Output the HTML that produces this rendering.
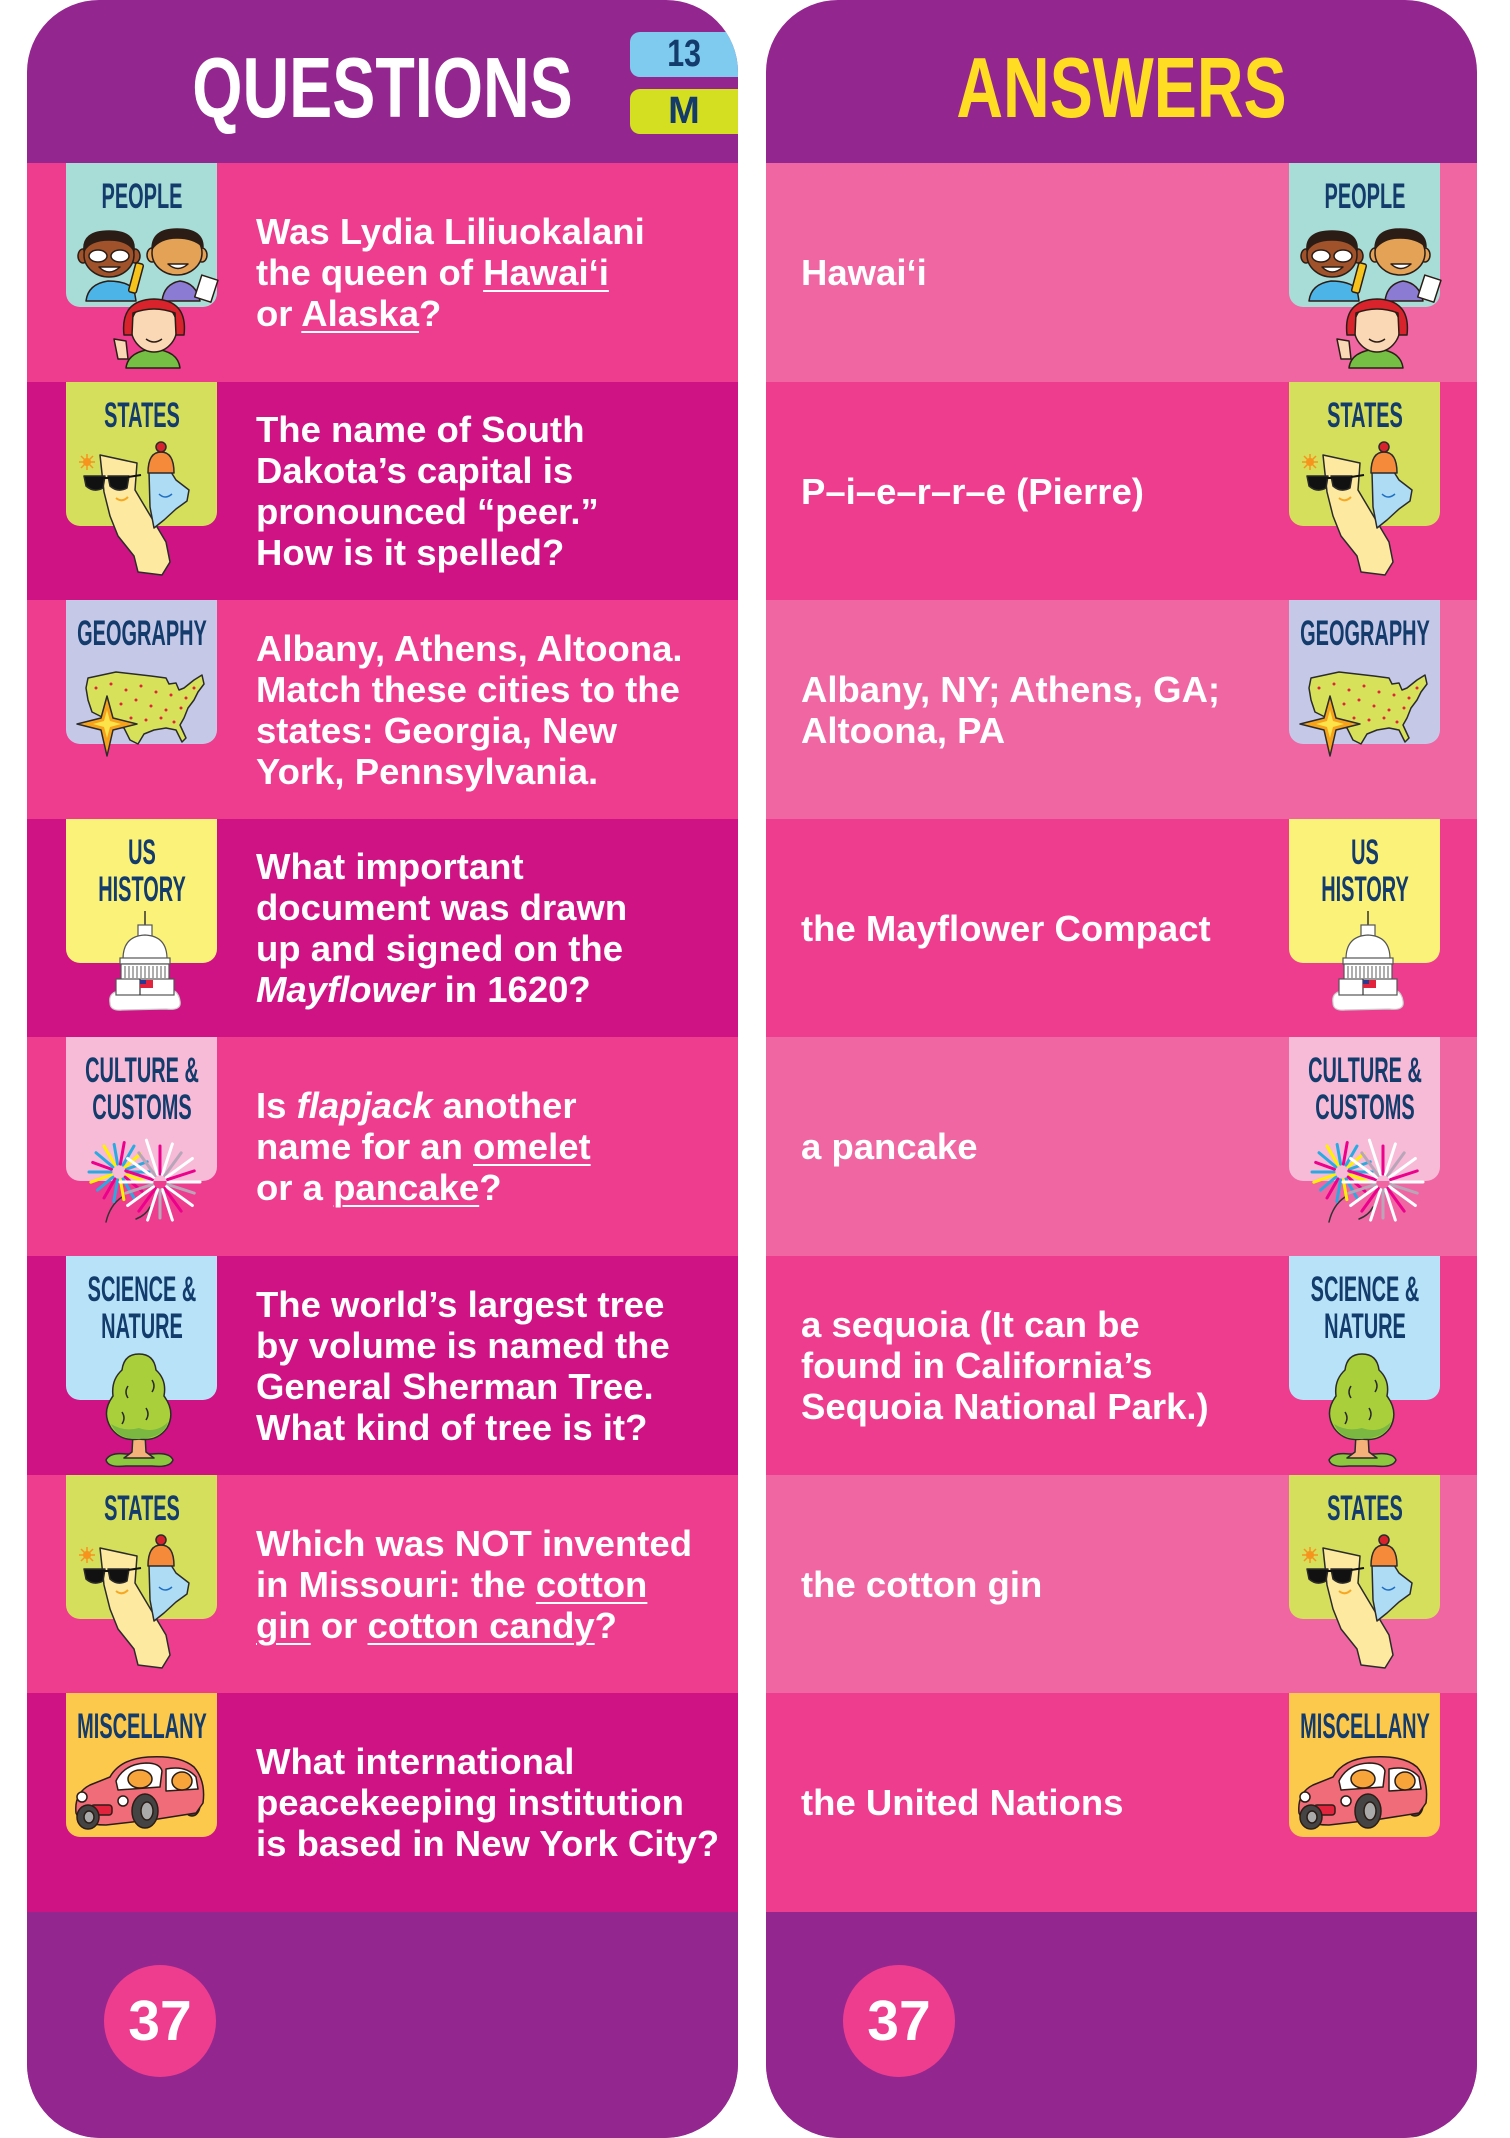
<!DOCTYPE html>
<html><head><meta charset="utf-8">
<style>
html,body{margin:0;padding:0;background:#fff;}
body{width:1510px;height:2138px;position:relative;overflow:hidden;font-family:"Liberation Sans",sans-serif;}
.card{position:absolute;top:0;width:711px;height:2138px;border-radius:72px 72px 74px 74px;overflow:hidden;background:#93278f;}
.title{position:absolute;top:46px;left:0;width:711px;text-align:center;font:bold 85px/85px "Liberation Sans",sans-serif;transform:scaleX(.76);white-space:nowrap;}
.tab{position:absolute;left:603px;width:108px;height:45px;border-radius:10px 0 0 10px;text-align:center;font:bold 38px/45px "Liberation Sans",sans-serif;color:#133b6c;}
.row{position:absolute;left:0;width:711px;}
.q,.a{position:absolute;top:0;bottom:0;display:flex;align-items:center;color:#fff;font:bold 36.5px/41px "Liberation Sans",sans-serif;white-space:nowrap;}
.q{left:229px;}
.a{left:35px;}
.bw{position:absolute;top:0;width:151px;height:218px;}
.badge{position:absolute;left:0;top:0;width:151px;height:144px;border-radius:0 0 14px 14px;}
.lbl{position:absolute;top:15px;left:50%;transform:translateX(-50%) scaleX(.57);font:bold 35px/37px "Liberation Sans",sans-serif;color:#133b6c;text-align:center;white-space:nowrap;}
.ill{position:absolute;left:0;top:0;width:151px;height:218px;overflow:visible;}
u{text-decoration:underline;text-decoration-thickness:2px;text-underline-offset:5px;}
.ftr{position:absolute;left:0;top:1912px;width:711px;height:226px;background:#93278f;}
.circ{position:absolute;left:77px;top:53px;width:112px;height:112px;border-radius:56px;background:#ee3d8f;color:#fff;text-align:center;font:bold 57px/112px "Liberation Sans",sans-serif;}
.pk{background:#ee3d8f;}
.mg{background:#cf1384;}
.lp{background:#ef66a3;}
</style></head><body>

<!-- ================= LEFT CARD ================= -->
<div class="card" style="left:27px;">
  <div class="title" style="color:#fff;">QUESTIONS</div>
  <div class="tab" style="top:32px;background:#7fcbef;"><span style="display:inline-block;transform:scaleX(.8);">13</span></div>
  <div class="tab" style="top:89px;background:#d5df22;">M</div>

  <!-- Row 1 PEOPLE -->
  <div class="row pk" style="top:163px;height:219px;">
    <div class="bw" style="left:39px;">
      <div class="badge" style="background:#a8dcd7;"><div class="lbl">PEOPLE</div></div>
      <svg class="ill" viewBox="0 0 151 218"><g stroke="#2b1d16" stroke-width="1.5" stroke-linejoin="round">
        <path d="M20 138 Q22 121 42 118 Q60 118 68 126 L70 138Z" fill="#4db4e8"/>
        <rect x="66" y="100" width="8" height="30" rx="2" fill="#f6c21c" transform="rotate(15 70 115)"/>
        <ellipse cx="17" cy="93" rx="5" ry="7" fill="#a0522a"/>
        <ellipse cx="69" cy="93" rx="5" ry="7" fill="#a0522a"/>
        <ellipse cx="43" cy="92" rx="25" ry="22" fill="#a0522a"/>
        <path d="M18 88 Q16 68 43 68 Q70 68 68 88 Q62 77 43 77 Q24 77 18 88Z" fill="#2b1d16"/>
        <ellipse cx="32" cy="93" rx="9" ry="6" fill="#fff"/>
        <ellipse cx="54" cy="93" rx="9" ry="6" fill="#fff"/>
        <path d="M33 104 Q43 114 54 104Z" fill="#fff"/>
        <path d="M96 138 Q98 121 114 118 Q130 120 134 138Z" fill="#8b7bd3"/>
        <ellipse cx="86" cy="92" rx="5" ry="7" fill="#e3a256"/>
        <ellipse cx="136" cy="92" rx="5" ry="7" fill="#e3a256"/>
        <ellipse cx="111" cy="90" rx="25" ry="22" fill="#e3a256"/>
        <path d="M86 86 Q86 66 111 66 Q137 66 137 84 Q128 75 111 75 Q94 75 86 86Z" fill="#2b1d16"/>
        <path d="M102 101 Q112 110 122 101Z" fill="#fff"/>
        <rect x="132" y="114" width="17" height="23" fill="#fff" transform="rotate(18 140 125)"/>
        <path d="M60 205 Q62 188 88 186 Q112 188 114 205Z" fill="#74bf44"/>
        <path d="M48 176 L52 196 L62 196 L60 178Z" fill="#fbd8b5"/>
        <ellipse cx="88" cy="164" rx="23" ry="25" fill="#fbd8b5"/>
        <path d="M58 172 Q54 137 88 136 Q122 137 118 172 L110 172 L109 150 Q88 142 67 150 L66 172Z" fill="#d8232d"/>
        <path d="M80 176 Q88 182 96 176" fill="none"/>
      </g></svg>
    </div>
    <div class="q"><div>Was Lydia Liliuokalani<br>the queen of <u>Hawai‘i</u><br>or <u>Alaska</u>?</div></div>
  </div>

  <!-- Row 2 STATES -->
  <div class="row mg" style="top:382px;height:218px;">
    <div class="bw" style="left:39px;">
      <div class="badge" style="background:#d5df5c;"><div class="lbl">STATES</div></div>
      <svg class="ill" viewBox="0 0 151 218"><g stroke="#2b2b2b" stroke-width="1.5" stroke-linejoin="round">
        <g stroke="#f7941d"><line x1="13" y1="80" x2="29" y2="80"/><line x1="21" y1="72" x2="21" y2="88"/><line x1="15" y1="74" x2="27" y2="86"/><line x1="27" y1="74" x2="15" y2="86"/></g>
        <circle cx="21" cy="80" r="4" fill="#f7941d" stroke="none"/>
        <path d="M34 73 L71 81 L69 108 L100 160 L104 180 L96 193 L72 190 L68 174 L52 154 L44 134 L38 110Z" fill="#fde99f"/>
        <path d="M18 94 L39 94 L37 106 Q28 111 20 104Z" fill="#111"/>
        <path d="M42 94 L63 94 L61 106 Q52 111 44 104Z" fill="#111"/>
        <line x1="38" y1="96" x2="43" y2="96" stroke="#111" stroke-width="2"/>
        <line x1="62" y1="95" x2="75" y2="93" stroke="#111" stroke-width="2"/>
        <path d="M50 116 Q56 121 62 115" fill="none" stroke="#f7a823" stroke-width="2"/>
        <path d="M83 90 L105 90 L110 98 L123 108 L121 119 L110 127 L98 138 L88 146 L84 125Z" fill="#aedcf4"/>
        <path d="M82 91 Q82 70 95 70 Q108 70 108 91Z" fill="#f58a3a"/>
        <circle cx="95" cy="65" r="5" fill="#d8232d"/>
        <path d="M93 112 Q99 118 106 112" fill="none" stroke="#1f6fc4"/>
      </g></svg>
    </div>
    <div class="q"><div>The name of South<br>Dakota’s capital is<br>pronounced “peer.”<br>How is it spelled?</div></div>
  </div>

  <!-- Row 3 GEOGRAPHY -->
  <div class="row pk" style="top:600px;height:219px;">
    <div class="bw" style="left:39px;">
      <div class="badge" style="background:#c5c9e7;"><div class="lbl">GEOGRAPHY</div></div>
      <svg class="ill" viewBox="0 0 151 218"><g stroke="#2b2b2b" stroke-width="1.5" stroke-linejoin="round">
        <path d="M22 78 L50 72 L85 76 L100 78 L103 84 L110 83 L113 90 L118 88 L128 80 L136 75 L138 84 L132 92 L128 100 L122 108 L118 118 L114 125 L120 138 L116 142 L110 130 L100 128 L88 130 L78 134 L72 144 L64 140 L58 128 L48 126 L38 118 L26 112 L22 100 L20 88Z" fill="#d7e25a"/>
        <g fill="#e2233d" stroke="none"><circle cx="30" cy="88" r="1.5"/><circle cx="45" cy="84" r="1.5"/><circle cx="60" cy="90" r="1.5"/><circle cx="75" cy="86" r="1.5"/><circle cx="90" cy="92" r="1.5"/><circle cx="105" cy="95" r="1.5"/><circle cx="120" cy="98" r="1.5"/><circle cx="55" cy="104" r="1.5"/><circle cx="70" cy="100" r="1.5"/><circle cx="85" cy="106" r="1.5"/><circle cx="100" cy="110" r="1.5"/><circle cx="115" cy="108" r="1.5"/><circle cx="65" cy="118" r="1.5"/><circle cx="80" cy="120" r="1.5"/><circle cx="95" cy="118" r="1.5"/><circle cx="108" cy="122" r="1.5"/><circle cx="128" cy="88" r="1.5"/></g>
        <path d="M41 96 L47 118 L71 124 L47 130 L41 156 L35 130 L11 124 L35 118Z" fill="#f6a31b"/>
        <path d="M41 110 L44 121 L55 124 L44 127 L41 138 L38 127 L27 124 L38 121Z" fill="#fde34a" stroke="none"/>
      </g></svg>
    </div>
    <div class="q"><div>Albany, Athens, Altoona.<br>Match these cities to the<br>states: Georgia, New<br>York, Pennsylvania.</div></div>
  </div>

  <!-- Row 4 US HISTORY -->
  <div class="row mg" style="top:819px;height:218px;">
    <div class="bw" style="left:39px;">
      <div class="badge" style="background:#fbf27a;"><div class="lbl">US<br>HISTORY</div></div>
      <svg class="ill" viewBox="0 0 151 218"><g stroke="#555" stroke-width="1.2">
        <path d="M44 184 Q42 172 56 172 Q62 164 74 170 Q86 164 96 170 Q112 168 114 182 Q116 192 100 190 L56 191 Q44 192 44 184Z" fill="#fff" stroke="#ccc"/>
        <line x1="79" y1="92" x2="79" y2="107" stroke="#333" stroke-width="1.5"/>
        <rect x="72" y="106" width="14" height="12" fill="#fff"/>
        <path d="M57 140 Q57 117 79 116 Q101 117 101 140Z" fill="#fff"/>
        <rect x="54" y="139" width="50" height="6" fill="#fff"/>
        <rect x="55" y="145" width="48" height="16" fill="#fff"/>
        <path d="M59 147 V159 M63 147 V159 M67 147 V159 M71 147 V159 M75 147 V159 M79 147 V159 M83 147 V159 M87 147 V159 M91 147 V159 M95 147 V159 M99 147 V159" stroke="#777"/>
        <rect x="50" y="160" width="58" height="16" fill="#fff"/>
        <line x1="74" y1="160" x2="74" y2="176" stroke="#333"/>
        <rect x="74" y="161" width="13" height="8" fill="#e2233d" stroke="none"/>
        <rect x="74" y="161" width="6" height="4" fill="#2b3990" stroke="none"/>
      </g></svg>
    </div>
    <div class="q"><div>What important<br>document was drawn<br>up and signed on the<br><i>Mayflower</i> in 1620?</div></div>
  </div>

  <!-- Row 5 CULTURE -->
  <div class="row pk" style="top:1037px;height:219px;">
    <div class="bw" style="left:39px;">
      <div class="badge" style="background:#f7bad7;"><div class="lbl">CULTURE &amp;<br>CUSTOMS</div></div>
      <svg class="ill" viewBox="0 0 151 218"><g stroke-linecap="round">
        <path d="M40 185 Q44 168 56 160" fill="none" stroke="#333" stroke-width="1.5"/>
        <path d="M70 182 Q80 178 84 170" fill="none" stroke="#333" stroke-width="1.5"/>
        <g transform="translate(53 135)" stroke-width="3">
          <line x1="8" y1="0" x2="30" y2="0" stroke="#29abe2"/>
          <line x1="8" y1="0" x2="28" y2="0" stroke="#fff200" transform="rotate(20)"/>
          <line x1="8" y1="0" x2="30" y2="0" stroke="#ec008c" transform="rotate(40)"/>
          <line x1="8" y1="0" x2="30" y2="0" stroke="#29abe2" transform="rotate(60)"/>
          <line x1="8" y1="0" x2="28" y2="0" stroke="#fff200" transform="rotate(80)"/>
          <line x1="8" y1="0" x2="30" y2="0" stroke="#29abe2" transform="rotate(100)"/>
          <line x1="8" y1="0" x2="30" y2="0" stroke="#ec008c" transform="rotate(120)"/>
          <line x1="8" y1="0" x2="28" y2="0" stroke="#29abe2" transform="rotate(140)"/>
          <line x1="8" y1="0" x2="30" y2="0" stroke="#fff200" transform="rotate(160)"/>
          <line x1="8" y1="0" x2="30" y2="0" stroke="#29abe2" transform="rotate(180)"/>
          <line x1="8" y1="0" x2="28" y2="0" stroke="#ec008c" transform="rotate(200)"/>
          <line x1="8" y1="0" x2="30" y2="0" stroke="#29abe2" transform="rotate(220)"/>
          <line x1="8" y1="0" x2="30" y2="0" stroke="#fff200" transform="rotate(240)"/>
          <line x1="8" y1="0" x2="28" y2="0" stroke="#29abe2" transform="rotate(260)"/>
          <line x1="8" y1="0" x2="30" y2="0" stroke="#ec008c" transform="rotate(280)"/>
          <line x1="8" y1="0" x2="30" y2="0" stroke="#29abe2" transform="rotate(300)"/>
          <line x1="8" y1="0" x2="28" y2="0" stroke="#fff200" transform="rotate(320)"/>
          <line x1="8" y1="0" x2="30" y2="0" stroke="#29abe2" transform="rotate(340)"/>
        </g>
        <g transform="translate(94 145)" stroke-width="3">
          <line x1="8" y1="0" x2="40" y2="0" stroke="#fff" transform="rotate(0)"/>
          <line x1="8" y1="0" x2="36" y2="0" stroke="#b8a6b8" transform="rotate(18)"/>
          <line x1="8" y1="0" x2="40" y2="0" stroke="#fff" transform="rotate(36)"/>
          <line x1="8" y1="0" x2="36" y2="0" stroke="#ec008c" transform="rotate(54)"/>
          <line x1="8" y1="0" x2="40" y2="0" stroke="#fff" transform="rotate(72)"/>
          <line x1="8" y1="0" x2="36" y2="0" stroke="#b8a6b8" transform="rotate(90)"/>
          <line x1="8" y1="0" x2="40" y2="0" stroke="#fff" transform="rotate(108)"/>
          <line x1="8" y1="0" x2="36" y2="0" stroke="#ec008c" transform="rotate(126)"/>
          <line x1="8" y1="0" x2="40" y2="0" stroke="#fff" transform="rotate(144)"/>
          <line x1="8" y1="0" x2="36" y2="0" stroke="#b8a6b8" transform="rotate(162)"/>
          <line x1="8" y1="0" x2="40" y2="0" stroke="#fff" transform="rotate(180)"/>
          <line x1="8" y1="0" x2="36" y2="0" stroke="#ec008c" transform="rotate(198)"/>
          <line x1="8" y1="0" x2="40" y2="0" stroke="#fff" transform="rotate(216)"/>
          <line x1="8" y1="0" x2="36" y2="0" stroke="#b8a6b8" transform="rotate(234)"/>
          <line x1="8" y1="0" x2="44" y2="0" stroke="#fff" transform="rotate(252)"/>
          <line x1="8" y1="0" x2="36" y2="0" stroke="#ec008c" transform="rotate(270)"/>
          <line x1="8" y1="0" x2="40" y2="0" stroke="#fff" transform="rotate(288)"/>
          <line x1="8" y1="0" x2="36" y2="0" stroke="#b8a6b8" transform="rotate(306)"/>
          <line x1="8" y1="0" x2="40" y2="0" stroke="#fff" transform="rotate(324)"/>
          <line x1="8" y1="0" x2="36" y2="0" stroke="#ec008c" transform="rotate(342)"/>
        </g>
      </g></svg>
    </div>
    <div class="q"><div>Is <i>flapjack</i> another<br>name for an <u>omelet</u><br>or a <u>pancake</u>?</div></div>
  </div>

  <!-- Row 6 SCIENCE -->
  <div class="row mg" style="top:1256px;height:219px;">
    <div class="bw" style="left:39px;">
      <div class="badge" style="background:#b7e2f7;"><div class="lbl">SCIENCE &amp;<br>NATURE</div></div>
      <svg class="ill" viewBox="0 0 151 218"><g stroke="#2b2b2b" stroke-width="1.5" stroke-linejoin="round">
        <path d="M40 204 Q44 196 60 198 L86 198 Q104 196 107 204 Q104 212 86 210 L60 210 Q42 212 40 204Z" fill="#8dc63f"/>
        <path d="M67 178 L66 196 L58 202 L88 202 L80 196 L79 178Z" fill="#f4b27a"/>
        <path d="M73 98 Q88 98 90 114 Q101 124 98 140 Q110 156 101 172 Q91 186 73 183 Q55 186 45 172 Q35 156 47 140 Q45 124 56 114 Q58 98 73 98Z" fill="#a9d03b"/>
        <path d="M45 168 Q58 176 73 172 Q90 178 102 166 Q98 182 73 183 Q52 184 45 168Z" fill="#7bb842" stroke="none"/>
        <path d="M62 130 Q58 136 62 142 M86 124 Q90 130 86 136 M80 152 Q84 158 80 164 M56 156 Q60 162 56 168" fill="none"/>
      </g></svg>
    </div>
    <div class="q"><div>The world’s largest tree<br>by volume is named the<br>General Sherman Tree.<br>What kind of tree is it?</div></div>
  </div>

  <!-- Row 7 STATES -->
  <div class="row pk" style="top:1475px;height:218px;">
    <div class="bw" style="left:39px;">
      <div class="badge" style="background:#d5df5c;"><div class="lbl">STATES</div></div>
      <svg class="ill" viewBox="0 0 151 218"><g stroke="#2b2b2b" stroke-width="1.5" stroke-linejoin="round">
        <g stroke="#f7941d"><line x1="13" y1="80" x2="29" y2="80"/><line x1="21" y1="72" x2="21" y2="88"/><line x1="15" y1="74" x2="27" y2="86"/><line x1="27" y1="74" x2="15" y2="86"/></g>
        <circle cx="21" cy="80" r="4" fill="#f7941d" stroke="none"/>
        <path d="M34 73 L71 81 L69 108 L100 160 L104 180 L96 193 L72 190 L68 174 L52 154 L44 134 L38 110Z" fill="#fde99f"/>
        <path d="M18 94 L39 94 L37 106 Q28 111 20 104Z" fill="#111"/>
        <path d="M42 94 L63 94 L61 106 Q52 111 44 104Z" fill="#111"/>
        <line x1="38" y1="96" x2="43" y2="96" stroke="#111" stroke-width="2"/>
        <line x1="62" y1="95" x2="75" y2="93" stroke="#111" stroke-width="2"/>
        <path d="M50 116 Q56 121 62 115" fill="none" stroke="#f7a823" stroke-width="2"/>
        <path d="M83 90 L105 90 L110 98 L123 108 L121 119 L110 127 L98 138 L88 146 L84 125Z" fill="#aedcf4"/>
        <path d="M82 91 Q82 70 95 70 Q108 70 108 91Z" fill="#f58a3a"/>
        <circle cx="95" cy="65" r="5" fill="#d8232d"/>
        <path d="M93 112 Q99 118 106 112" fill="none" stroke="#1f6fc4"/>
      </g></svg>
    </div>
    <div class="q"><div>Which was NOT invented<br>in Missouri: the <u>cotton</u><br><u>gin</u> or <u>cotton candy</u>?</div></div>
  </div>

  <!-- Row 8 MISCELLANY -->
  <div class="row mg" style="top:1693px;height:219px;">
    <div class="bw" style="left:39px;">
      <div class="badge" style="background:#fdc94c;"><div class="lbl">MISCELLANY</div></div>
      <svg class="ill" viewBox="0 0 151 218"><g stroke="#2b1d16" stroke-width="1.5" stroke-linejoin="round">
        <ellipse cx="126" cy="112" rx="8" ry="11" fill="#444"/>
        <path d="M10 120 Q8 100 24 92 L44 84 Q54 66 82 64 Q114 62 128 74 Q140 88 137 110 L130 120 L92 126 L40 132 Q14 132 10 120Z" fill="#f06c79"/>
        <path d="M50 88 Q58 71 80 70 Q94 70 96 78 L94 94 L52 97Z" fill="#fff"/>
        <path d="M100 76 Q120 72 130 84 L132 96 L100 98Z" fill="#fff"/>
        <ellipse cx="74" cy="86" rx="12" ry="9" fill="#f7a43a"/>
        <ellipse cx="116" cy="88" rx="10" ry="9" fill="#f7a43a"/>
        <circle cx="16" cy="104" r="5" fill="#fff"/>
        <circle cx="57" cy="108" r="5" fill="#fff"/>
        <rect x="25" y="112" width="21" height="10" rx="3" fill="#e2233d"/>
        <ellipse cx="22" cy="124" rx="11" ry="12" fill="#444"/>
        <ellipse cx="23" cy="124" rx="5" ry="6" fill="#aaa"/>
        <ellipse cx="79" cy="118" rx="13" ry="17" fill="#444"/>
        <ellipse cx="81" cy="118" rx="6" ry="9" fill="#aaa"/>
      </g></svg>
    </div>
    <div class="q"><div>What international<br>peacekeeping institution<br>is based in New York City?</div></div>
  </div>

  <div class="ftr"><div class="circ">37</div></div>
</div>

<!-- ================= RIGHT CARD ================= -->
<div class="card" style="left:766px;">
  <div class="title" style="color:#fedd22;">ANSWERS</div>

  <!-- Row 1 -->
  <div class="row lp" style="top:163px;height:219px;">
    <div class="bw" style="left:523px;">
      <div class="badge" style="background:#a8dcd7;"><div class="lbl">PEOPLE</div></div>
      <svg class="ill" viewBox="0 0 151 218"><g stroke="#2b1d16" stroke-width="1.5" stroke-linejoin="round">
        <path d="M20 138 Q22 121 42 118 Q60 118 68 126 L70 138Z" fill="#4db4e8"/>
        <rect x="66" y="100" width="8" height="30" rx="2" fill="#f6c21c" transform="rotate(15 70 115)"/>
        <ellipse cx="17" cy="93" rx="5" ry="7" fill="#a0522a"/>
        <ellipse cx="69" cy="93" rx="5" ry="7" fill="#a0522a"/>
        <ellipse cx="43" cy="92" rx="25" ry="22" fill="#a0522a"/>
        <path d="M18 88 Q16 68 43 68 Q70 68 68 88 Q62 77 43 77 Q24 77 18 88Z" fill="#2b1d16"/>
        <ellipse cx="32" cy="93" rx="9" ry="6" fill="#fff"/>
        <ellipse cx="54" cy="93" rx="9" ry="6" fill="#fff"/>
        <path d="M33 104 Q43 114 54 104Z" fill="#fff"/>
        <path d="M96 138 Q98 121 114 118 Q130 120 134 138Z" fill="#8b7bd3"/>
        <ellipse cx="86" cy="92" rx="5" ry="7" fill="#e3a256"/>
        <ellipse cx="136" cy="92" rx="5" ry="7" fill="#e3a256"/>
        <ellipse cx="111" cy="90" rx="25" ry="22" fill="#e3a256"/>
        <path d="M86 86 Q86 66 111 66 Q137 66 137 84 Q128 75 111 75 Q94 75 86 86Z" fill="#2b1d16"/>
        <path d="M102 101 Q112 110 122 101Z" fill="#fff"/>
        <rect x="132" y="114" width="17" height="23" fill="#fff" transform="rotate(18 140 125)"/>
        <path d="M60 205 Q62 188 88 186 Q112 188 114 205Z" fill="#74bf44"/>
        <path d="M48 176 L52 196 L62 196 L60 178Z" fill="#fbd8b5"/>
        <ellipse cx="88" cy="164" rx="23" ry="25" fill="#fbd8b5"/>
        <path d="M58 172 Q54 137 88 136 Q122 137 118 172 L110 172 L109 150 Q88 142 67 150 L66 172Z" fill="#d8232d"/>
        <path d="M80 176 Q88 182 96 176" fill="none"/>
      </g></svg>
    </div>
    <div class="a"><div>Hawai‘i</div></div>
  </div>

  <!-- Row 2 -->
  <div class="row pk" style="top:382px;height:218px;">
    <div class="bw" style="left:523px;">
      <div class="badge" style="background:#d5df5c;"><div class="lbl">STATES</div></div>
      <svg class="ill" viewBox="0 0 151 218"><g stroke="#2b2b2b" stroke-width="1.5" stroke-linejoin="round">
        <g stroke="#f7941d"><line x1="13" y1="80" x2="29" y2="80"/><line x1="21" y1="72" x2="21" y2="88"/><line x1="15" y1="74" x2="27" y2="86"/><line x1="27" y1="74" x2="15" y2="86"/></g>
        <circle cx="21" cy="80" r="4" fill="#f7941d" stroke="none"/>
        <path d="M34 73 L71 81 L69 108 L100 160 L104 180 L96 193 L72 190 L68 174 L52 154 L44 134 L38 110Z" fill="#fde99f"/>
        <path d="M18 94 L39 94 L37 106 Q28 111 20 104Z" fill="#111"/>
        <path d="M42 94 L63 94 L61 106 Q52 111 44 104Z" fill="#111"/>
        <line x1="38" y1="96" x2="43" y2="96" stroke="#111" stroke-width="2"/>
        <line x1="62" y1="95" x2="75" y2="93" stroke="#111" stroke-width="2"/>
        <path d="M50 116 Q56 121 62 115" fill="none" stroke="#f7a823" stroke-width="2"/>
        <path d="M83 90 L105 90 L110 98 L123 108 L121 119 L110 127 L98 138 L88 146 L84 125Z" fill="#aedcf4"/>
        <path d="M82 91 Q82 70 95 70 Q108 70 108 91Z" fill="#f58a3a"/>
        <circle cx="95" cy="65" r="5" fill="#d8232d"/>
        <path d="M93 112 Q99 118 106 112" fill="none" stroke="#1f6fc4"/>
      </g></svg>
    </div>
    <div class="a"><div>P–i–e–r–r–e (Pierre)</div></div>
  </div>

  <!-- Row 3 -->
  <div class="row lp" style="top:600px;height:219px;">
    <div class="bw" style="left:523px;">
      <div class="badge" style="background:#c5c9e7;"><div class="lbl">GEOGRAPHY</div></div>
      <svg class="ill" viewBox="0 0 151 218"><g stroke="#2b2b2b" stroke-width="1.5" stroke-linejoin="round">
        <path d="M22 78 L50 72 L85 76 L100 78 L103 84 L110 83 L113 90 L118 88 L128 80 L136 75 L138 84 L132 92 L128 100 L122 108 L118 118 L114 125 L120 138 L116 142 L110 130 L100 128 L88 130 L78 134 L72 144 L64 140 L58 128 L48 126 L38 118 L26 112 L22 100 L20 88Z" fill="#d7e25a"/>
        <g fill="#e2233d" stroke="none"><circle cx="30" cy="88" r="1.5"/><circle cx="45" cy="84" r="1.5"/><circle cx="60" cy="90" r="1.5"/><circle cx="75" cy="86" r="1.5"/><circle cx="90" cy="92" r="1.5"/><circle cx="105" cy="95" r="1.5"/><circle cx="120" cy="98" r="1.5"/><circle cx="55" cy="104" r="1.5"/><circle cx="70" cy="100" r="1.5"/><circle cx="85" cy="106" r="1.5"/><circle cx="100" cy="110" r="1.5"/><circle cx="115" cy="108" r="1.5"/><circle cx="65" cy="118" r="1.5"/><circle cx="80" cy="120" r="1.5"/><circle cx="95" cy="118" r="1.5"/><circle cx="108" cy="122" r="1.5"/><circle cx="128" cy="88" r="1.5"/></g>
        <path d="M41 96 L47 118 L71 124 L47 130 L41 156 L35 130 L11 124 L35 118Z" fill="#f6a31b"/>
        <path d="M41 110 L44 121 L55 124 L44 127 L41 138 L38 127 L27 124 L38 121Z" fill="#fde34a" stroke="none"/>
      </g></svg>
    </div>
    <div class="a"><div>Albany, NY; Athens, GA;<br>Altoona, PA</div></div>
  </div>

  <!-- Row 4 -->
  <div class="row pk" style="top:819px;height:218px;">
    <div class="bw" style="left:523px;">
      <div class="badge" style="background:#fbf27a;"><div class="lbl">US<br>HISTORY</div></div>
      <svg class="ill" viewBox="0 0 151 218"><g stroke="#555" stroke-width="1.2">
        <path d="M44 184 Q42 172 56 172 Q62 164 74 170 Q86 164 96 170 Q112 168 114 182 Q116 192 100 190 L56 191 Q44 192 44 184Z" fill="#fff" stroke="#ccc"/>
        <line x1="79" y1="92" x2="79" y2="107" stroke="#333" stroke-width="1.5"/>
        <rect x="72" y="106" width="14" height="12" fill="#fff"/>
        <path d="M57 140 Q57 117 79 116 Q101 117 101 140Z" fill="#fff"/>
        <rect x="54" y="139" width="50" height="6" fill="#fff"/>
        <rect x="55" y="145" width="48" height="16" fill="#fff"/>
        <path d="M59 147 V159 M63 147 V159 M67 147 V159 M71 147 V159 M75 147 V159 M79 147 V159 M83 147 V159 M87 147 V159 M91 147 V159 M95 147 V159 M99 147 V159" stroke="#777"/>
        <rect x="50" y="160" width="58" height="16" fill="#fff"/>
        <line x1="74" y1="160" x2="74" y2="176" stroke="#333"/>
        <rect x="74" y="161" width="13" height="8" fill="#e2233d" stroke="none"/>
        <rect x="74" y="161" width="6" height="4" fill="#2b3990" stroke="none"/>
      </g></svg>
    </div>
    <div class="a"><div>the Mayflower Compact</div></div>
  </div>

  <!-- Row 5 -->
  <div class="row lp" style="top:1037px;height:219px;">
    <div class="bw" style="left:523px;">
      <div class="badge" style="background:#f7bad7;"><div class="lbl">CULTURE &amp;<br>CUSTOMS</div></div>
      <svg class="ill" viewBox="0 0 151 218"><g stroke-linecap="round">
        <path d="M40 185 Q44 168 56 160" fill="none" stroke="#333" stroke-width="1.5"/>
        <path d="M70 182 Q80 178 84 170" fill="none" stroke="#333" stroke-width="1.5"/>
        <g transform="translate(53 135)" stroke-width="3">
          <line x1="8" y1="0" x2="30" y2="0" stroke="#29abe2"/>
          <line x1="8" y1="0" x2="28" y2="0" stroke="#fff200" transform="rotate(20)"/>
          <line x1="8" y1="0" x2="30" y2="0" stroke="#ec008c" transform="rotate(40)"/>
          <line x1="8" y1="0" x2="30" y2="0" stroke="#29abe2" transform="rotate(60)"/>
          <line x1="8" y1="0" x2="28" y2="0" stroke="#fff200" transform="rotate(80)"/>
          <line x1="8" y1="0" x2="30" y2="0" stroke="#29abe2" transform="rotate(100)"/>
          <line x1="8" y1="0" x2="30" y2="0" stroke="#ec008c" transform="rotate(120)"/>
          <line x1="8" y1="0" x2="28" y2="0" stroke="#29abe2" transform="rotate(140)"/>
          <line x1="8" y1="0" x2="30" y2="0" stroke="#fff200" transform="rotate(160)"/>
          <line x1="8" y1="0" x2="30" y2="0" stroke="#29abe2" transform="rotate(180)"/>
          <line x1="8" y1="0" x2="28" y2="0" stroke="#ec008c" transform="rotate(200)"/>
          <line x1="8" y1="0" x2="30" y2="0" stroke="#29abe2" transform="rotate(220)"/>
          <line x1="8" y1="0" x2="30" y2="0" stroke="#fff200" transform="rotate(240)"/>
          <line x1="8" y1="0" x2="28" y2="0" stroke="#29abe2" transform="rotate(260)"/>
          <line x1="8" y1="0" x2="30" y2="0" stroke="#ec008c" transform="rotate(280)"/>
          <line x1="8" y1="0" x2="30" y2="0" stroke="#29abe2" transform="rotate(300)"/>
          <line x1="8" y1="0" x2="28" y2="0" stroke="#fff200" transform="rotate(320)"/>
          <line x1="8" y1="0" x2="30" y2="0" stroke="#29abe2" transform="rotate(340)"/>
        </g>
        <g transform="translate(94 145)" stroke-width="3">
          <line x1="8" y1="0" x2="40" y2="0" stroke="#fff" transform="rotate(0)"/>
          <line x1="8" y1="0" x2="36" y2="0" stroke="#b8a6b8" transform="rotate(18)"/>
          <line x1="8" y1="0" x2="40" y2="0" stroke="#fff" transform="rotate(36)"/>
          <line x1="8" y1="0" x2="36" y2="0" stroke="#ec008c" transform="rotate(54)"/>
          <line x1="8" y1="0" x2="40" y2="0" stroke="#fff" transform="rotate(72)"/>
          <line x1="8" y1="0" x2="36" y2="0" stroke="#b8a6b8" transform="rotate(90)"/>
          <line x1="8" y1="0" x2="40" y2="0" stroke="#fff" transform="rotate(108)"/>
          <line x1="8" y1="0" x2="36" y2="0" stroke="#ec008c" transform="rotate(126)"/>
          <line x1="8" y1="0" x2="40" y2="0" stroke="#fff" transform="rotate(144)"/>
          <line x1="8" y1="0" x2="36" y2="0" stroke="#b8a6b8" transform="rotate(162)"/>
          <line x1="8" y1="0" x2="40" y2="0" stroke="#fff" transform="rotate(180)"/>
          <line x1="8" y1="0" x2="36" y2="0" stroke="#ec008c" transform="rotate(198)"/>
          <line x1="8" y1="0" x2="40" y2="0" stroke="#fff" transform="rotate(216)"/>
          <line x1="8" y1="0" x2="36" y2="0" stroke="#b8a6b8" transform="rotate(234)"/>
          <line x1="8" y1="0" x2="44" y2="0" stroke="#fff" transform="rotate(252)"/>
          <line x1="8" y1="0" x2="36" y2="0" stroke="#ec008c" transform="rotate(270)"/>
          <line x1="8" y1="0" x2="40" y2="0" stroke="#fff" transform="rotate(288)"/>
          <line x1="8" y1="0" x2="36" y2="0" stroke="#b8a6b8" transform="rotate(306)"/>
          <line x1="8" y1="0" x2="40" y2="0" stroke="#fff" transform="rotate(324)"/>
          <line x1="8" y1="0" x2="36" y2="0" stroke="#ec008c" transform="rotate(342)"/>
        </g>
      </g></svg>
    </div>
    <div class="a"><div>a pancake</div></div>
  </div>

  <!-- Row 6 -->
  <div class="row pk" style="top:1256px;height:219px;">
    <div class="bw" style="left:523px;">
      <div class="badge" style="background:#b7e2f7;"><div class="lbl">SCIENCE &amp;<br>NATURE</div></div>
      <svg class="ill" viewBox="0 0 151 218"><g stroke="#2b2b2b" stroke-width="1.5" stroke-linejoin="round">
        <path d="M40 204 Q44 196 60 198 L86 198 Q104 196 107 204 Q104 212 86 210 L60 210 Q42 212 40 204Z" fill="#8dc63f"/>
        <path d="M67 178 L66 196 L58 202 L88 202 L80 196 L79 178Z" fill="#f4b27a"/>
        <path d="M73 98 Q88 98 90 114 Q101 124 98 140 Q110 156 101 172 Q91 186 73 183 Q55 186 45 172 Q35 156 47 140 Q45 124 56 114 Q58 98 73 98Z" fill="#a9d03b"/>
        <path d="M45 168 Q58 176 73 172 Q90 178 102 166 Q98 182 73 183 Q52 184 45 168Z" fill="#7bb842" stroke="none"/>
        <path d="M62 130 Q58 136 62 142 M86 124 Q90 130 86 136 M80 152 Q84 158 80 164 M56 156 Q60 162 56 168" fill="none"/>
      </g></svg>
    </div>
    <div class="a"><div>a sequoia (It can be<br>found in California’s<br>Sequoia National Park.)</div></div>
  </div>

  <!-- Row 7 -->
  <div class="row lp" style="top:1475px;height:218px;">
    <div class="bw" style="left:523px;">
      <div class="badge" style="background:#d5df5c;"><div class="lbl">STATES</div></div>
      <svg class="ill" viewBox="0 0 151 218"><g stroke="#2b2b2b" stroke-width="1.5" stroke-linejoin="round">
        <g stroke="#f7941d"><line x1="13" y1="80" x2="29" y2="80"/><line x1="21" y1="72" x2="21" y2="88"/><line x1="15" y1="74" x2="27" y2="86"/><line x1="27" y1="74" x2="15" y2="86"/></g>
        <circle cx="21" cy="80" r="4" fill="#f7941d" stroke="none"/>
        <path d="M34 73 L71 81 L69 108 L100 160 L104 180 L96 193 L72 190 L68 174 L52 154 L44 134 L38 110Z" fill="#fde99f"/>
        <path d="M18 94 L39 94 L37 106 Q28 111 20 104Z" fill="#111"/>
        <path d="M42 94 L63 94 L61 106 Q52 111 44 104Z" fill="#111"/>
        <line x1="38" y1="96" x2="43" y2="96" stroke="#111" stroke-width="2"/>
        <line x1="62" y1="95" x2="75" y2="93" stroke="#111" stroke-width="2"/>
        <path d="M50 116 Q56 121 62 115" fill="none" stroke="#f7a823" stroke-width="2"/>
        <path d="M83 90 L105 90 L110 98 L123 108 L121 119 L110 127 L98 138 L88 146 L84 125Z" fill="#aedcf4"/>
        <path d="M82 91 Q82 70 95 70 Q108 70 108 91Z" fill="#f58a3a"/>
        <circle cx="95" cy="65" r="5" fill="#d8232d"/>
        <path d="M93 112 Q99 118 106 112" fill="none" stroke="#1f6fc4"/>
      </g></svg>
    </div>
    <div class="a"><div>the cotton gin</div></div>
  </div>

  <!-- Row 8 -->
  <div class="row pk" style="top:1693px;height:219px;">
    <div class="bw" style="left:523px;">
      <div class="badge" style="background:#fdc94c;"><div class="lbl">MISCELLANY</div></div>
      <svg class="ill" viewBox="0 0 151 218"><g stroke="#2b1d16" stroke-width="1.5" stroke-linejoin="round">
        <ellipse cx="126" cy="112" rx="8" ry="11" fill="#444"/>
        <path d="M10 120 Q8 100 24 92 L44 84 Q54 66 82 64 Q114 62 128 74 Q140 88 137 110 L130 120 L92 126 L40 132 Q14 132 10 120Z" fill="#f06c79"/>
        <path d="M50 88 Q58 71 80 70 Q94 70 96 78 L94 94 L52 97Z" fill="#fff"/>
        <path d="M100 76 Q120 72 130 84 L132 96 L100 98Z" fill="#fff"/>
        <ellipse cx="74" cy="86" rx="12" ry="9" fill="#f7a43a"/>
        <ellipse cx="116" cy="88" rx="10" ry="9" fill="#f7a43a"/>
        <circle cx="16" cy="104" r="5" fill="#fff"/>
        <circle cx="57" cy="108" r="5" fill="#fff"/>
        <rect x="25" y="112" width="21" height="10" rx="3" fill="#e2233d"/>
        <ellipse cx="22" cy="124" rx="11" ry="12" fill="#444"/>
        <ellipse cx="23" cy="124" rx="5" ry="6" fill="#aaa"/>
        <ellipse cx="79" cy="118" rx="13" ry="17" fill="#444"/>
        <ellipse cx="81" cy="118" rx="6" ry="9" fill="#aaa"/>
      </g></svg>
    </div>
    <div class="a"><div>the United Nations</div></div>
  </div>

  <div class="ftr"><div class="circ">37</div></div>
</div>

</body></html>
